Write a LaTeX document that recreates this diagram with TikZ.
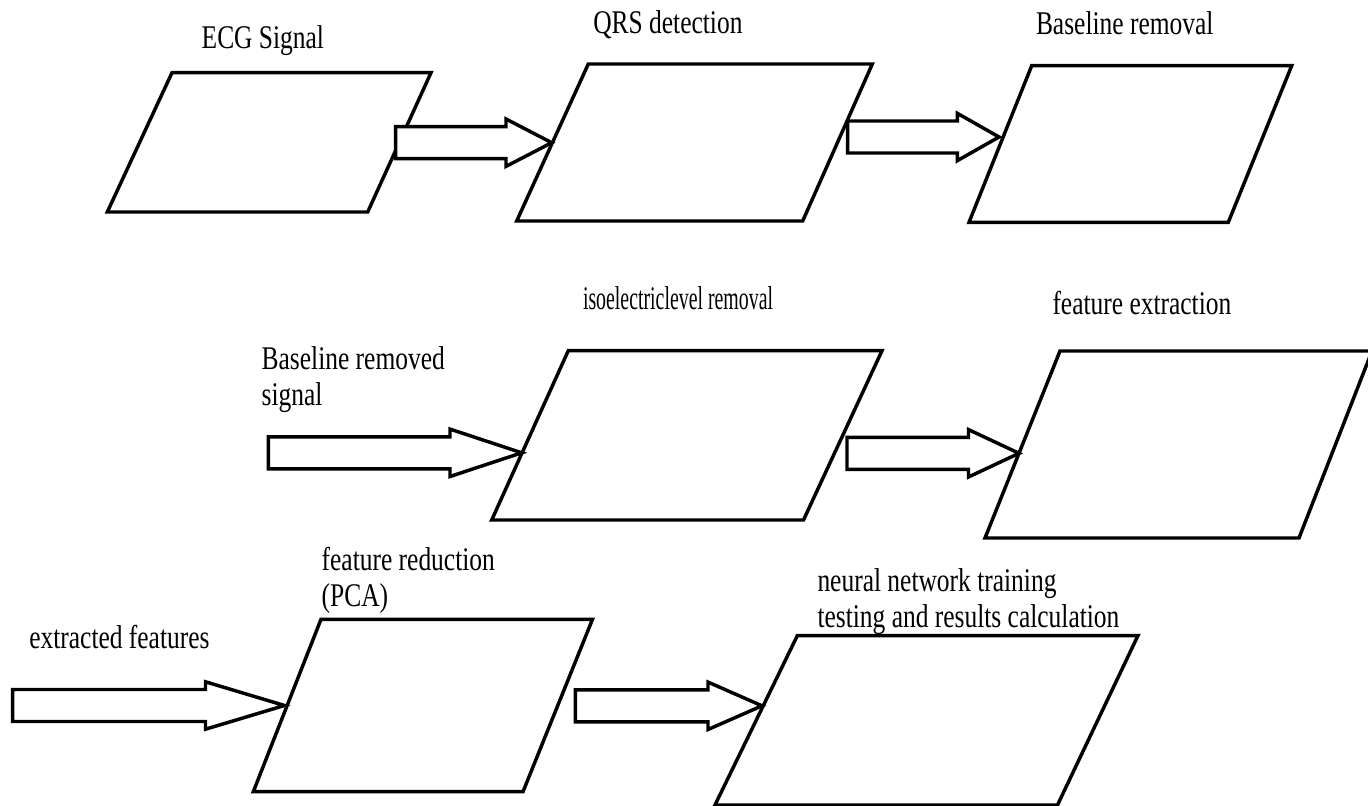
\documentclass[tikz,border=0pt]{standalone}
\usepackage{fontspec}
\setmainfont{Liberation Serif}[FakeStretch=0.77]
\newfontfamily\isofont{Liberation Serif}[FakeStretch=0.6]
\usetikzlibrary{calc}
\tikzset{
  box/.style={draw=black, line width=2.6pt, line join=miter, fill=white},
  arrowbox/.style={draw=black, line width=2.6pt, line join=miter, fill=white},
  lbl/.style={inner sep=0pt, outer sep=0pt, text=black, font=\fontsize{24.8}{27}\selectfont},
}
\newcommand\blockarr[3]{%
  \draw[arrowbox] ($(#1)+(0,-16)$) -- ($(#2)+(-#3,-16)$) -- ($(#2)+(-#3,-23.7)$) -- (#2)
    -- ($(#2)+(-#3,23.7)$) -- ($(#2)+(-#3,16)$) -- ($(#1)+(0,16)$) -- cycle;}
\newcommand\pgram[5]{%
  \coordinate (#1tl) at #2; \coordinate (#1tr) at #3;
  \coordinate (#1br) at #4; \coordinate (#1bl) at #5;
  \draw[box] (#1tl) -- (#1tr) -- (#1br) -- (#1bl) -- cycle;}
\begin{document}
\begin{tikzpicture}[x=0.75pt,y=-0.75pt]
\useasboundingbox (0,0) rectangle (1368,806);
\fill[white] (0,0) rectangle (1368,806);
\clip (0,0) rectangle (1368,806);

% parallelograms
\pgram{p1}{(172,72.7)}{(431,72.7)}{(367.7,212)}{(107.3,212)}
\pgram{p2}{(588.3,64)}{(872.3,64)}{(802.7,221)}{(516.7,221)}
\pgram{p3}{(1031.7,65.7)}{(1291.7,65.7)}{(1228.3,222.3)}{(969,222.3)}
\pgram{p4}{(568.3,350.7)}{(882,350.7)}{(803.5,520)}{(491.7,520)}
\pgram{p5}{(1060,351)}{(1372,351)}{(1299,538)}{(985,538)}
\pgram{p6}{(321,619.3)}{(592.5,619.3)}{(523,791.7)}{(253.3,791.7)}
\pgram{p7}{(797.3,635.7)}{(1137.9,635.7)}{(1057.5,805)}{(715,805)}

% arrow end points
\coordinate (a1s) at (395.7,142.7); \coordinate (a1e) at (551.7,142.7);
\coordinate (a2s) at (847.7,137);   \coordinate (a2e) at (999,137);
\coordinate (a3s) at (268.3,452.8); \coordinate (a3e) at (521.7,452.8);
\coordinate (a4s) at (847,453.3);   \coordinate (a4e) at (1019,453.3);
\coordinate (a5s) at (12.7,705.5);  \coordinate (a5e) at (284.5,705.5);
\coordinate (a6s) at (575.3,705.8); \coordinate (a6e) at (762,705.8);

\blockarr{a1s}{a1e}{45.7}
\blockarr{a2s}{a2e}{41.7}
\blockarr{a3s}{a3e}{71.7}
\blockarr{a4s}{a4e}{50.5}
\blockarr{a5s}{a5e}{79}
\blockarr{a6s}{a6e}{54}

% labels
\node[lbl, anchor=base west] (t1) at (201.7,49) {ECG Signal};
\node[lbl, anchor=base west] (t2) at (593.3,34) {QRS detection};
\node[lbl, anchor=base west] (t3) at (1036,35) {Baseline removal};
\node[lbl, anchor=base west, font=\fontsize{24.8}{27}\isofont] (t4) at (583,309) {isoelectriclevel removal};
\node[lbl, anchor=base west] (t5) at (1052.5,315) {feature extraction};
\node[lbl, anchor=north west, align=left] (t6) at (261.7,347) {Baseline removed\\signal};
\node[lbl, anchor=north west, align=left] (t7) at (321.7,547) {feature reduction\\(PCA)};
\node[lbl, anchor=base west] (t8) at (29.3,648) {extracted features};
\node[lbl, anchor=north west, align=left] (t9) at (817.5,569) {neural network training\\testing and results calculation};
\end{tikzpicture}
\end{document}
